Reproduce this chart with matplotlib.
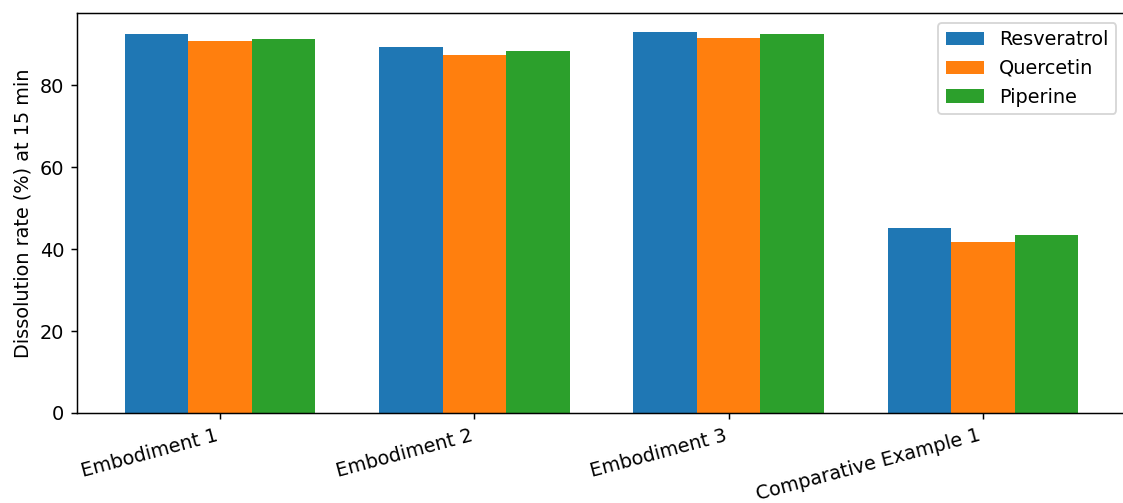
import numpy as np
import matplotlib
matplotlib.use('Agg')
import matplotlib.pyplot as plt

## data
groups = ['Embodiment 1', 'Embodiment 2', 'Embodiment 3', 'Comparative Example 1']
resveratrol = [92.5, 89.3, 93.0, 45.2]
quercetin = [90.8, 87.5, 91.5, 41.8]
piperine = [91.2, 88.3, 92.6, 43.5]
series_names = ['Resveratrol', 'Quercetin', 'Piperine']

plt.rcParams['font.size'] = 10.4

x = np.arange(len(groups))
w = 0.25

fig = plt.figure(figsize=(1123/133., 503/133.), dpi=133)
# right spine sits just outside the saved picture, like the reference
ax = fig.add_axes([0.0686, 0.179, 0.9341, 0.795])
ax.bar(x - w, resveratrol, w, label=series_names[0])
ax.bar(x, quercetin, w, label=series_names[1])
ax.bar(x + w, piperine, w, label=series_names[2])

ax.set_xticks(x)
ax.set_xticklabels(groups, rotation=15, ha='right')
ax.set_ylabel('Dissolution rate (%) at 15 min')
ax.legend(loc='upper right')

fig.savefig('out.png', dpi=133)
